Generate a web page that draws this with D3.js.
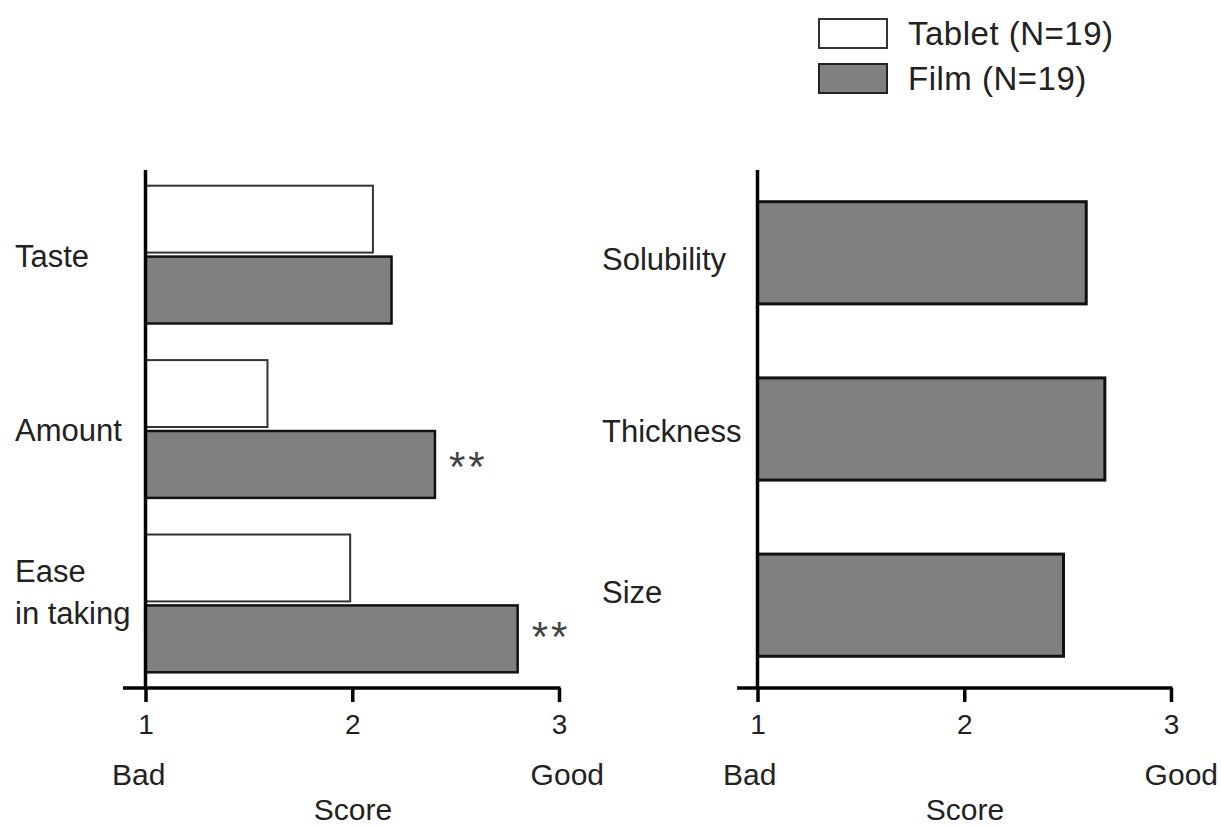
<!DOCTYPE html>
<html><head><meta charset="utf-8">
<script src="https://cdn.jsdelivr.net/npm/d3@7"></script>
<style>
html,body{margin:0;padding:0;background:#fff;}
svg{display:block;font-family:"Liberation Sans",Arial,sans-serif;}
</style></head>
<body><svg id="chart" width="1221" height="827"></svg>
<script>
const leftCategories = ["Taste", "Amount", "Ease in taking"];
const leftLabelLines = [["Taste"], ["Amount"], ["Ease", "in taking"]];
const tabletScores = [2.10, 1.59, 1.99];
const filmScores = [2.19, 2.40, 2.80];
const significance = ["", "**", "**"];
const rightCategories = ["Solubility", "Thickness", "Size"];
const filmRightScores = [2.59, 2.68, 2.48];
const tickValues = [1, 2, 3];
const seriesNames = ["Tablet (N=19)", "Film (N=19)"];

const svg = d3.select("#chart");
const textColor = "#222";
const filmFill = "#808080";

function panel(opts) {
  const g = svg.append("g");
  const x = d3.scaleLinear().domain([1, 3]).range([opts.x0, opts.x1]);
  const y = d3.scaleBand().domain(opts.categories).range([170, 688])
    .paddingInner(opts.padIn).paddingOuter(opts.padOut);

  opts.draw(g, x, y);

  g.append("line").attr("x1", x(1)).attr("x2", x(1)).attr("y1", 170).attr("y2", 688)
    .attr("stroke", "#000").attr("stroke-width", 3.5);
  g.append("line").attr("x1", opts.axisLeft).attr("x2", x(3) + 1.5).attr("y1", 688).attr("y2", 688)
    .attr("stroke", "#000").attr("stroke-width", 3.5);
  const ax = d3.axisBottom(x).tickValues(tickValues).tickSize(14).tickPadding(12).tickFormat(d3.format("d"));
  const axg = g.append("g").attr("transform", "translate(0,688)").call(ax);
  axg.select(".domain").remove();
  axg.selectAll(".tick line").attr("stroke", "#000").attr("stroke-width", 3.5);
  axg.selectAll(".tick text").attr("fill", textColor).attr("font-size", 28)
    .attr("font-family", "Liberation Sans, Arial, sans-serif");

  g.append("text").attr("x", opts.badX).attr("y", 785).attr("fill", textColor)
    .attr("font-size", 30).text("Bad");
  g.append("text").attr("x", opts.goodX).attr("y", 785).attr("fill", textColor)
    .attr("font-size", 30).attr("text-anchor", "end").text("Good");
  g.append("text").attr("x", opts.scoreX).attr("y", 820).attr("fill", textColor)
    .attr("font-size", 30).attr("text-anchor", "middle").text("Score");

  return {x, y, g};
}

// Left panel
panel({
  categories: leftCategories, x0: 145.5, x1: 559, padIn: 0.21, padOut: 0.09,
  axisLeft: 123, badX: 112, goodX: 604, scoreX: 353,
  draw: (g, x, y) => {
    const bh = y.bandwidth() / 2;
    g.selectAll("rect.tab").data(leftCategories).join("rect")
      .attr("x", x(1)).attr("y", (d) => y(d))
      .attr("width", (d, i) => x(tabletScores[i]) - x(1)).attr("height", bh - 2)
      .attr("fill", "#fff").attr("stroke", "#333").attr("stroke-width", 2);
    g.selectAll("rect.film").data(leftCategories).join("rect")
      .attr("x", x(1)).attr("y", (d) => y(d) + bh + 2)
      .attr("width", (d, i) => x(filmScores[i]) - x(1)).attr("height", bh - 2)
      .attr("fill", filmFill).attr("stroke", "#111").attr("stroke-width", 2.5);
    g.selectAll("text.sig").data(leftCategories).join("text")
      .attr("x", (d, i) => x(filmScores[i]) + 14)
      .attr("y", (d, i) => y(d) + bh * 1.5 + 1 + 23 - (i === 2 ? 11 : 6))
      .attr("font-size", 42).attr("fill", "#444").attr("letter-spacing", 3)
      .text((d, i) => significance[i]);
    leftCategories.forEach((c, i) => {
      const lines = leftLabelLines[i];
      const cy = y(c) + y.bandwidth() / 2;
      const t = g.append("text").attr("x", 15).attr("fill", textColor).attr("font-size", 31);
      if (lines.length === 1) {
        t.attr("y", cy + 12).text(lines[0]);
      } else {
        t.attr("y", cy - 21).text(lines[0]);
        g.append("text").attr("x", 15).attr("y", cy + 21).attr("fill", textColor)
          .attr("font-size", 31).text(lines[1]);
      }
    });
  }
});

// Right panel
panel({
  categories: rightCategories, x0: 757.5, x1: 1171, padIn: 0.42, padOut: 0.18,
  axisLeft: 737, badX: 723, goodX: 1218, scoreX: 965,
  draw: (g, x, y) => {
    g.selectAll("rect.film").data(rightCategories).join("rect")
      .attr("x", x(1)).attr("y", (d) => y(d))
      .attr("width", (d, i) => x(filmRightScores[i]) - x(1)).attr("height", y.bandwidth())
      .attr("fill", filmFill).attr("stroke", "#111").attr("stroke-width", 3);
    const ly = d3.scalePoint().domain(rightCategories).range([270, 603]);
    g.selectAll("text.cat").data(rightCategories).join("text")
      .attr("x", 602).attr("y", (d, i) => ly(d) + (i === 1 ? 5 : 0))
      .attr("fill", textColor).attr("font-size", 31).text((d) => d);
  }
});

// Legend
const leg = svg.append("g");
const legFills = ["#fff", filmFill];
const legStroke = ["#333", "#222"];
seriesNames.forEach((n, i) => {
  leg.append("rect").attr("x", 819).attr("y", 19 + i * 45).attr("width", 68).attr("height", 29)
    .attr("fill", legFills[i]).attr("stroke", legStroke[i]).attr("stroke-width", 2);
  leg.append("text").attr("x", 908).attr("y", 45 + i * 45).attr("fill", textColor)
    .attr("font-size", 33).attr("letter-spacing", 0.5).text(n);
});
</script></body></html>
